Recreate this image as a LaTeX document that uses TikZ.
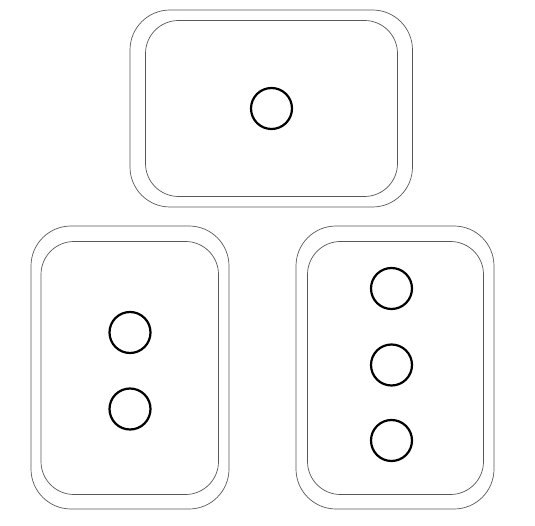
\documentclass[tikz,border=0pt]{standalone}
\begin{document}
\begin{tikzpicture}[x=1pt,y=-1pt,
  outerbox/.style={draw=black!65,line width=0.7pt,rounded corners=40pt},
  innerbox/.style={draw=black!65,line width=0.7pt,rounded corners=33pt},
  hole/.style={circle,draw=black,line width=2.2pt,minimum size=41pt,inner sep=0pt}]
\useasboundingbox[fill=white] (0,0) rectangle (535,526);
% top box
\draw[outerbox] (130,10) rectangle (412.5,207);
\draw[innerbox] (145.5,20.5) rectangle (397.5,196.5);
\node[hole] (t1) at (271.5,108.5) {};
% left box
\draw[outerbox] (31,226) rectangle (229,509);
\draw[innerbox] (41,241.5) rectangle (218.5,494.5);
\node[hole] (l1) at (130,332.5) {};
\node[hole] (l2) at (130,409) {};
% right box
\draw[outerbox] (296,226) rectangle (494,509);
\draw[innerbox] (307.5,241.5) rectangle (483.5,494.5);
\node[hole] (r1) at (391.5,288.5) {};
\node[hole] (r2) at (391.5,365) {};
\node[hole] (r3) at (391.5,440.5) {};
\end{tikzpicture}
\end{document}
